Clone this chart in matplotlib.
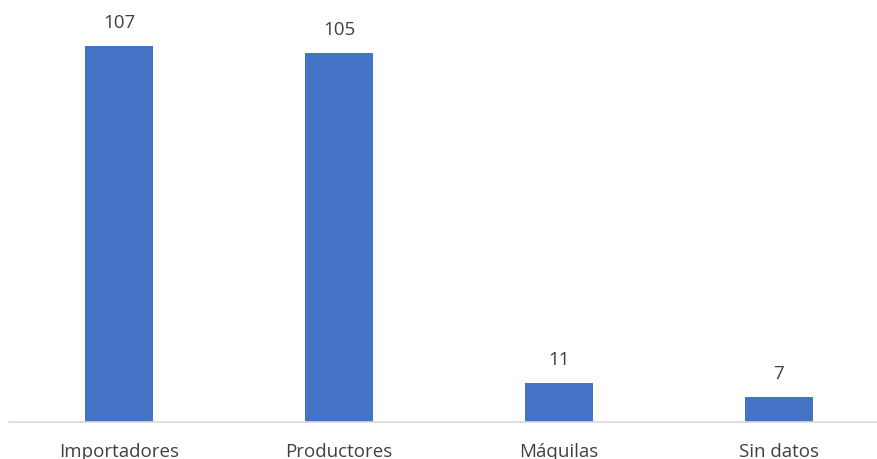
import matplotlib
matplotlib.use("Agg")
import matplotlib.pyplot as plt

categorias = ["Importadores", "Productores", "Máquilas", "Sin datos"]
valores = [107, 105, 11, 7]

plt.rcParams['font.family'] = ['Open Sans', 'DejaVu Sans']

fig = plt.figure(figsize=(8.78, 4.59), dpi=100)
ax = fig.add_axes([9 / 878, 37 / 459, 869 / 878, 422 / 459])

x = range(len(categorias))
bars = ax.bar(x, valores, width=0.31, color="#4472C4", zorder=2)

for xi, v in zip(x, valores):
    ax.annotate(str(v), (xi, v), xytext=(0, 10), textcoords="offset points",
                ha="center", va="bottom", fontsize=13.5, color="#404040")

ax.set_xlim(-0.5, 3.45)
ax.set_ylim(0, 120)
ax.set_xticks(list(x))
ax.set_xticklabels(categorias, fontsize=13.5, color="#404040")
ax.tick_params(axis="x", length=0, pad=15)
ax.set_yticks([])
for s in ["top", "right", "left"]:
    ax.spines[s].set_visible(False)
ax.spines["bottom"].set_color("#D9D9D9")
ax.spines["bottom"].set_linewidth(1.2)

fig.savefig("out.png", dpi=100)
